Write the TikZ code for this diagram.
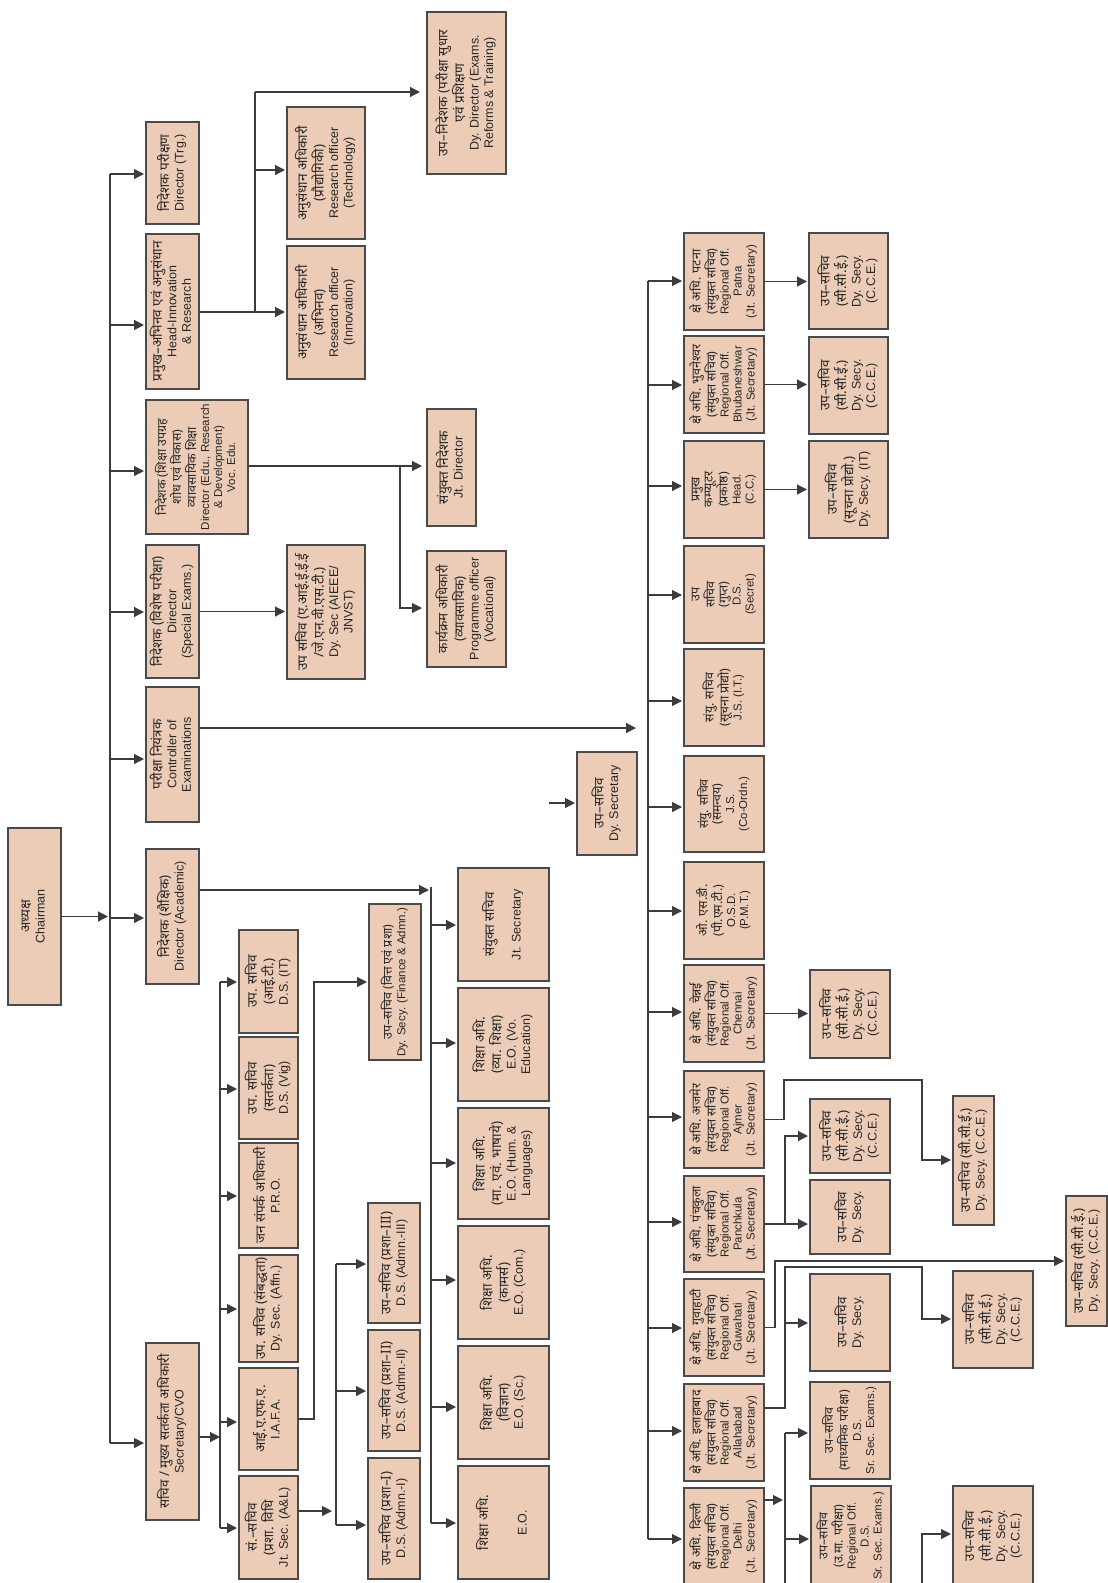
\documentclass[tikz,border=0pt]{standalone}
\usepackage{fontspec}
\usepackage{graphicx}
\setmainfont{Liberation Sans}
\newfontfamily\hin[Script=Devanagari,Scale=1.08]{Noto Sans}
\usetikzlibrary{arrows.meta}
\definecolor{peach}{HTML}{ECCCB7}
\definecolor{ink}{HTML}{3C3C3C}
\definecolor{edge}{HTML}{4A4A4A}
\newcommand{\vt}[1]{\rotatebox{90}{\begin{tabular}{@{}c@{}}#1\end{tabular}}}
\tikzset{
  office/.style={
    draw=edge,
    line width=1.3pt,
    fill=peach,
    anchor=north west,
    inner sep=0pt,
    outer sep=0pt,
    text=black!85,
    font=\fontsize{12.5}{14.5}\selectfont
  },
  officesm/.style={
    office,
    font=\fontsize{11.5}{13}\selectfont
  },
  wh/.style 2 args={minimum width=#1, minimum height=#2},
  flow/.style={
    -{Triangle[length=10pt,width=10pt]},
    draw=ink,
    line width=1.2pt,
    shorten >=2pt
  },
  link/.style={draw=ink, line width=1.2pt}
}

\begin{document}
\begin{tikzpicture}[x=1pt,y=-1pt]
  \useasboundingbox (0,0) rectangle (1108,1583);
  \clip (0,0) rectangle (1108,1583);

  % chairman and the directors
  \node[office, wh={53}{177}] (chairman) at (8,828) {\vt{\hin अध्यक्ष\\Chairman}};
  \node[office, wh={53}{102}] (dirtrg) at (146,122) {\vt{\hin निदेशक परीक्षण\\Director (Trg.)}};
  \node[office, wh={53}{155}] (headinno) at (146,234) {\vt{\hin प्रमुख–अभिनव एवं अनुसंधान\\Head-Innovation\\\& Research}};
  \node[officesm, wh={102}{134}] (diredu) at (146,400) {\vt{\hin निदेशक (शिक्षा उपग्रह\\\hin शोध एवं विकास)\\\hin व्यावसायिक शिक्षा\\Director (Edu., Research\\\& Development)\\Voc. Edu.}};
  \node[office, wh={53}{133}] (dirspl) at (146,545) {\vt{\hin निदेशक (विशेष परीक्षा)\\Director\\(Special Exams.)}};
  \node[office, wh={53}{135}] (coe) at (146,687) {\vt{\hin परीक्षा नियंत्रक\\Controller of\\Examinations}};
  \node[office, wh={53}{135}] (diracad) at (146,849) {\vt{\hin निदेशक (शैक्षिक)\\Director (Academic)}};
  \node[office, wh={53}{177}] (secy) at (146,1343) {\vt{\hin सचिव / मुख्य सतर्कता अधिकारी\\Secretary/CVO}};

  % top branches
  \node[office, wh={78}{132}] (rotech) at (287,107) {\vt{\hin अनुसंधान अधिकारी\\\hin (प्रौद्योगिकी)\\Research officer\\(Technology)}};
  \node[office, wh={78}{133}] (roinno) at (287,246) {\vt{\hin अनुसंधान अधिकारी\\\hin (अभिनव)\\Research officer\\(Innovation)}};
  \node[office, wh={79}{162}] (dydir) at (427,12) {\vt{\hin उप–निदेशक (परीक्षा सुधार\\\hin एवं प्रशिक्षण\\Dy. Director (Exams.\\Reforms \& Training)}};
  \node[office, wh={78}{134}] (dsaieee) at (287,545) {\vt{\hin उप सचिव (ए.आई.ई.ई.ई\\\hin /जे.एन.वी.एस.टी.)\\Dy. Sec (AIEEE/\\JNVST)}};
  \node[office, wh={49}{117}] (jtdir) at (427,409) {\vt{\hin संयुक्त निदेशक\\Jt. Director}};
  \node[office, wh={79}{116}] (progoff) at (427,551) {\vt{\hin कार्यक्रम अधिकारी\\\hin (व्यावसायिक)\\Programme officer\\(Vocational)}};
  \node[office, wh={60}{103}] (dysecy) at (577,752) {\vt{\hin उप–सचिव\\Dy. Secretary}};

  % academic wing
  \node[office, wh={91}{113}] (jtsecy) at (458,868) {\vt{\hin संयुक्त सचिव\\[12pt]Jt. Secretary}};
  \node[office, wh={91}{113}] (eovo) at (458,988) {\vt{\hin शिक्षा अधि.\\\hin (व्या. शिक्षा)\\E.O. (Vo.\\Education)}};
  \node[office, wh={91}{111}] (eohum) at (458,1108) {\vt{\hin शिक्षा अधि.\\\hin (मा. एवं. भाषाये)\\E.O. (Hum. \&\\Languages)}};
  \node[office, wh={91}{113}] (eocom) at (458,1226) {\vt{\hin शिक्षा अधि.\\\hin (कामर्स)\\E.O. (Com.)}};
  \node[office, wh={91}{113}] (eosc) at (458,1346) {\vt{\hin शिक्षा अधि.\\\hin (विज्ञान)\\E.O. (Sc.)}};
  \node[office, wh={91}{113}] (eo) at (458,1466) {\vt{\hin शिक्षा अधि.\\[24pt]E.O.}};
  \node[office, wh={52}{156}, font=\fontsize{11.5}{13.5}\selectfont] (dsfin) at (369,904) {\vt{\hin उप–सचिव (वित्त एवं प्रशा)\\Dy. Secy. (Finance \& Admn.)}};

  % secretary wing
  \node[office, wh={59}{103}] (dsit) at (239,930) {\vt{\hin उप. सचिव\\\hin (आई.टी.)\\D.S. (IT)}};
  \node[office, wh={59}{102}] (dsvig) at (239,1037) {\vt{\hin उप. सचिव\\\hin (सतर्कता)\\D.S. (Vig)}};
  \node[office, wh={59}{105}] (pro) at (239,1143) {\vt{\hin जन संपर्क अधिकारी\\P.R.O.}};
  \node[office, wh={59}{107}] (dsaffn) at (239,1255) {\vt{\hin उप. सचिव (संबद्धता)\\Dy. Sec. (Affn.)}};
  \node[office, wh={59}{102}] (iafa) at (239,1368) {\vt{\hin आई.ए.एफ.ए.\\I.A.F.A.}};
  \node[office, wh={59}{103}] (jsal) at (239,1476) {\vt{\hin सं.–सचिव\\\hin (प्रशा. विधि\\Jt. Sec. (A\&L)}};
  \node[office, wh={52}{120}] (dsadm3) at (368,1203) {\vt{\hin उप–सचिव (प्रशा–III)\\D.S. (Admn.-III)}};
  \node[office, wh={52}{121}] (dsadm2) at (368,1330) {\vt{\hin उप–सचिव (प्रशा–II)\\D.S. (Admn.-II)}};
  \node[office, wh={52}{121}] (dsadm1) at (368,1458) {\vt{\hin उप–सचिव (प्रशा–I)\\D.S. (Admn.-I)}};

  % regional offices
  \node[officesm, wh={80}{97}] (patna) at (684,233) {\vt{\hin क्षे अधि. पटना\\\hin (संयुक्त सचिव)\\Regional Off.\\Patna\\(Jt. Secretary)}};
  \node[officesm, wh={80}{97}] (bhub) at (684,336) {\vt{\hin क्षे अधि. भुवनेश्वर\\\hin (संयुक्त सचिव)\\Regional Off.\\Bhubaneshwar\\(Jt. Secretary)}};
  \node[officesm, wh={80}{97}] (headcc) at (684,441) {\vt{\hin प्रमुख\\\hin कम्प्यूटर\\\hin (प्रकोष्ठ)\\Head.\\(C.C.)}};
  \node[officesm, wh={80}{97}] (dssecret) at (684,546) {\vt{\hin उप\\\hin सचिव\\\hin (गुप्त)\\D.S.\\(Secret)}};
  \node[officesm, wh={80}{97}] (jsit) at (684,649) {\vt{\hin संयु. सचिव\\\hin (सूचना प्रोद्यो)\\J.S. (I.T.)}};
  \node[officesm, wh={80}{96}] (jscoord) at (684,756) {\vt{\hin संयु. सचिव\\\hin (समन्वय)\\J.S.\\(Co-Ordn.)}};
  \node[officesm, wh={80}{97}] (osd) at (684,862) {\vt{\hin ओ. एस.डी.\\\hin (पी.एम.टी.)\\O.S.D.\\(P.M.T.)}};
  \node[officesm, wh={80}{97}] (chennai) at (684,965) {\vt{\hin क्षे अधि. चेन्नई\\\hin (संयुक्त सचिव)\\Regional Off.\\Chennai\\(Jt. Secretary)}};
  \node[officesm, wh={80}{97}] (ajmer) at (684,1071) {\vt{\hin क्षे अधि. अजमेर\\\hin (संयुक्त सचिव)\\Regional Off.\\Ajmer\\(Jt. Secretary)}};
  \node[officesm, wh={80}{96}] (panch) at (684,1176) {\vt{\hin क्षे अधि. पंचकुला\\\hin (संयुक्त सचिव)\\Regional Off.\\Panchkula\\(Jt. Secretary)}};
  \node[officesm, wh={80}{97}] (guwa) at (684,1279) {\vt{\hin क्षे अधि. गुवाहाटी\\\hin (संयुक्त सचिव)\\Regional Off.\\Guwahati\\(Jt. Secretary)}};
  \node[officesm, wh={80}{97}] (allah) at (684,1384) {\vt{\hin क्षे अधि. इलाहाबाद\\\hin (संयुक्त सचिव)\\Regional Off.\\Allahabad\\(Jt. Secretary)}};
  \node[officesm, wh={80}{97}] (delhi) at (684,1488) {\vt{\hin क्षे अधि. दिल्ली\\\hin (संयुक्त सचिव)\\Regional Off.\\Delhi\\(Jt. Secretary)}};

  % deputy secretaries of the regional offices
  \node[office, wh={79}{96}] (dspatna) at (809,233) {\vt{\hin उप–सचिव\\\hin (सी.सी.ई.)\\Dy. Secy.\\(C.C.E.)}};
  \node[office, wh={79}{97}] (dsbhub) at (809,337) {\vt{\hin उप–सचिव\\\hin (सी.सी.ई.)\\Dy. Secy.\\(C.C.E.)}};
  \node[office, wh={79}{97}] (dscc) at (809,441) {\vt{\hin उप–सचिव\\\hin (सूचना प्रोद्यो.)\\Dy. Secy. (IT)}};
  \node[office, wh={80}{88}] (dschennai) at (810,970) {\vt{\hin उप–सचिव\\\hin (सी.सी.ई.)\\Dy. Secy.\\(C.C.E.)}};
  \node[office, wh={41}{129}] (dsajmer) at (953,1096) {\vt{\hin उप–सचिव (सी.सी.ई.)\\Dy. Secy. (C.C.E.)}};
  \node[office, wh={80}{74}] (dspanchcce) at (810,1099) {\vt{\hin उप–सचिव\\\hin (सी.सी.ई.)\\Dy. Secy.\\(C.C.E.)}};
  \node[office, wh={80}{74}] (dspanch) at (810,1180) {\vt{\hin उप–सचिव\\Dy. Secy.}};
  \node[office, wh={41}{130}] (dsguwa) at (1066,1196) {\vt{\hin उप–सचिव (सी.सी.ई.)\\Dy. Secy. (C.C.E.)}};
  \node[office, wh={80}{97}] (dsallah) at (810,1274) {\vt{\hin उप–सचिव\\Dy. Secy.}};
  \node[office, wh={80}{97}] (dsallahcce) at (953,1271) {\vt{\hin उप–सचिव\\\hin (सी.सी.ई.)\\Dy. Secy.\\(C.C.E.)}};
  \node[officesm, wh={80}{97}] (dssrsec) at (810,1382) {\vt{\hin उप–सचिव\\\hin (माध्यमिक परीक्षा)\\D.S.\\Sr. Sec. Exams.)}};
  \node[officesm, wh={80}{100}] (dssrsec2) at (811,1486) {\vt{\hin उप–सचिव\\\hin (उ.मा. परीक्षा)\\Regional Off.\\D.S.\\Sr. Sec. Exams.)}};
  \node[office, wh={80}{100}] (dsbottom) at (953,1486) {\vt{\hin उप–सचिव\\\hin (सी.सी.ई.)\\Dy. Secy.\\(C.C.E.)}};

  % main trunk
  \coordinate (trunktop) at (110,174);
  \coordinate (trunkbot) at (110,1443);
  \draw[link] (trunktop) -- (trunkbot);
  \draw[flow] (chairman.east) -- (chairman.east -| trunktop);
  \foreach \y/\n in {174/dirtrg,325/headinno,471/diredu,612/dirspl,759/coe,918/diracad,1443/secy}{
    \coordinate (tap) at (110,\y);
    \draw[flow] (tap) -- (tap -| \n.west);
  }

  % innovation and research
  \coordinate (hbus) at (255,312);
  \coordinate (hbustop) at (255,92);
  \draw[link] (headinno.east |- hbus) -- (hbus) -- (hbustop);
  \draw[flow, shorten >=7pt] (hbustop) -- (hbustop -| dydir.west);
  \foreach \y/\n in {170/rotech,312/roinno}{
    \coordinate (tap) at (255,\y);
    \draw[flow] (tap) -- (tap -| \n.west);
  }

  % education research
  \coordinate (ebus) at (400,466);
  \coordinate (ebusend) at (400,608);
  \draw[flow, shorten >=5pt] (diredu.east |- ebus) -- (ebus -| jtdir.west);
  \draw[flow, shorten >=5pt] (ebus) -- (ebusend) -- (ebusend -| progoff.west);
  \draw[flow] (dirspl.east) -- (dirspl.east -| dsaieee.west);

  % examinations
  \coordinate (regin) at (636,728);
  \draw[flow, shorten >=0pt] (coe.east |- regin) -- (regin);
  \coordinate (dyin) at (549,803);
  \draw[flow] (dyin) -- (dyin -| dysecy.west);

  % academic wing
  \coordinate (ain) at (429,890);
  \draw[flow, shorten >=0pt] (diracad.east |- ain) -- (ain);
  \draw[link] (431,887) -- (431,1523);
  \foreach \y/\n in {925/jtsecy,1043/eovo,1163/eohum,1280/eocom,1407/eosc,1523/eo}{
    \coordinate (tap) at (431,\y);
    \draw[flow] (tap) -- (tap -| \n.west);
  }

  % secretary wing
  \coordinate (sbus) at (220,1437);
  \draw[flow, shorten >=0pt] (secy.east |- sbus) -- (sbus);
  \draw[link] (220,982) -- (220,1528);
  \foreach \y/\n in {982/dsit,1089/dsvig,1196/pro,1309/dsaffn,1422/iafa,1528/jsal}{
    \coordinate (tap) at (220,\y);
    \draw[flow] (tap) -- (tap -| \n.west);
  }
  \coordinate (if1) at (314,1419);
  \coordinate (if2) at (314,982);
  \draw[flow] (iafa.east |- if1) -- (if1) -- (if2) -- (if2 -| dsfin.west);
  \coordinate (jin) at (332,1511);
  \draw[flow, shorten >=0pt] (jsal.east |- jin) -- (jin);
  \draw[link] (336,1264) -- (336,1525);
  \foreach \y/\n in {1264/dsadm3,1391/dsadm2,1525/dsadm1}{
    \coordinate (tap) at (336,\y);
    \draw[flow] (tap) -- (tap -| \n.west);
  }

  % regional bus
  \coordinate (rtop) at (648,281);
  \coordinate (rbot) at (648,1539);
  \draw[link] (rtop) -- (rbot);
  \foreach \y/\n in {281/patna,385/bhub,486/headcc,595/dssecret,701/jsit,807/jscoord,911/osd,1012/chennai,1117/ajmer,1222/panch,1328/guwa,1431/allah,1539/delhi}{
    \coordinate (tap) at (648,\y);
    \draw[flow] (tap) -- (tap -| \n.west);
  }
  \draw[flow] (patna.east) -- (patna.east -| dspatna.west);
  \draw[flow] (bhub.east) -- (bhub.east -| dsbhub.west);
  \draw[flow] (headcc.east) -- (headcc.east -| dscc.west);
  \draw[flow] (chennai.east) -- (chennai.east -| dschennai.west);

  \coordinate (aj1) at (784,1080);
  \coordinate (aj2) at (922,1160);
  \draw[flow] (ajmer.east) -- (ajmer.east -| aj1) -- (aj1) -| (aj2) -- (aj2 -| dsajmer.west);

  \coordinate (pk1) at (785,1136);
  \draw[flow] (panch.east) -- (panch.east -| dspanch.west);
  \draw[flow] (panch.east -| pk1) -- (pk1) -- (pk1 -| dspanchcce.west);

  \coordinate (gw1) at (775,1261);
  \draw[flow] (guwa.east) -- (guwa.east -| gw1) -- (gw1) -- (gw1 -| dsguwa.west);

  \coordinate (al0) at (785,1408);
  \coordinate (al1) at (785,1267);
  \coordinate (al2) at (922,1319);
  \coordinate (al3) at (785,1323);
  \draw[flow] (allah.east |- al0) -- (al0) -- (al1) -| (al2) -- (al2 -| dsallahcce.west);
  \draw[flow] (al3) -- (al3 -| dsallah.west);

  \coordinate (dl0) at (783,1500);
  \coordinate (dl1) at (785,1433);
  \coordinate (dl2) at (785,1539);
  \coordinate (dlend) at (785,1590);
  \draw[flow, shorten >=0pt] (delhi.east |- dl0) -- (dl0);
  \draw[link] (dl1) -- (dlend);
  \draw[flow] (dl1) -- (dl1 -| dssrsec.west);
  \draw[flow] (dl2) -- (dl2 -| dssrsec2.west);

  \coordinate (bt0) at (922,1590);
  \coordinate (bt1) at (922,1534);
  \draw[flow] (bt0) -- (bt1) -- (bt1 -| dsbottom.west);
\end{tikzpicture}
\end{document}
